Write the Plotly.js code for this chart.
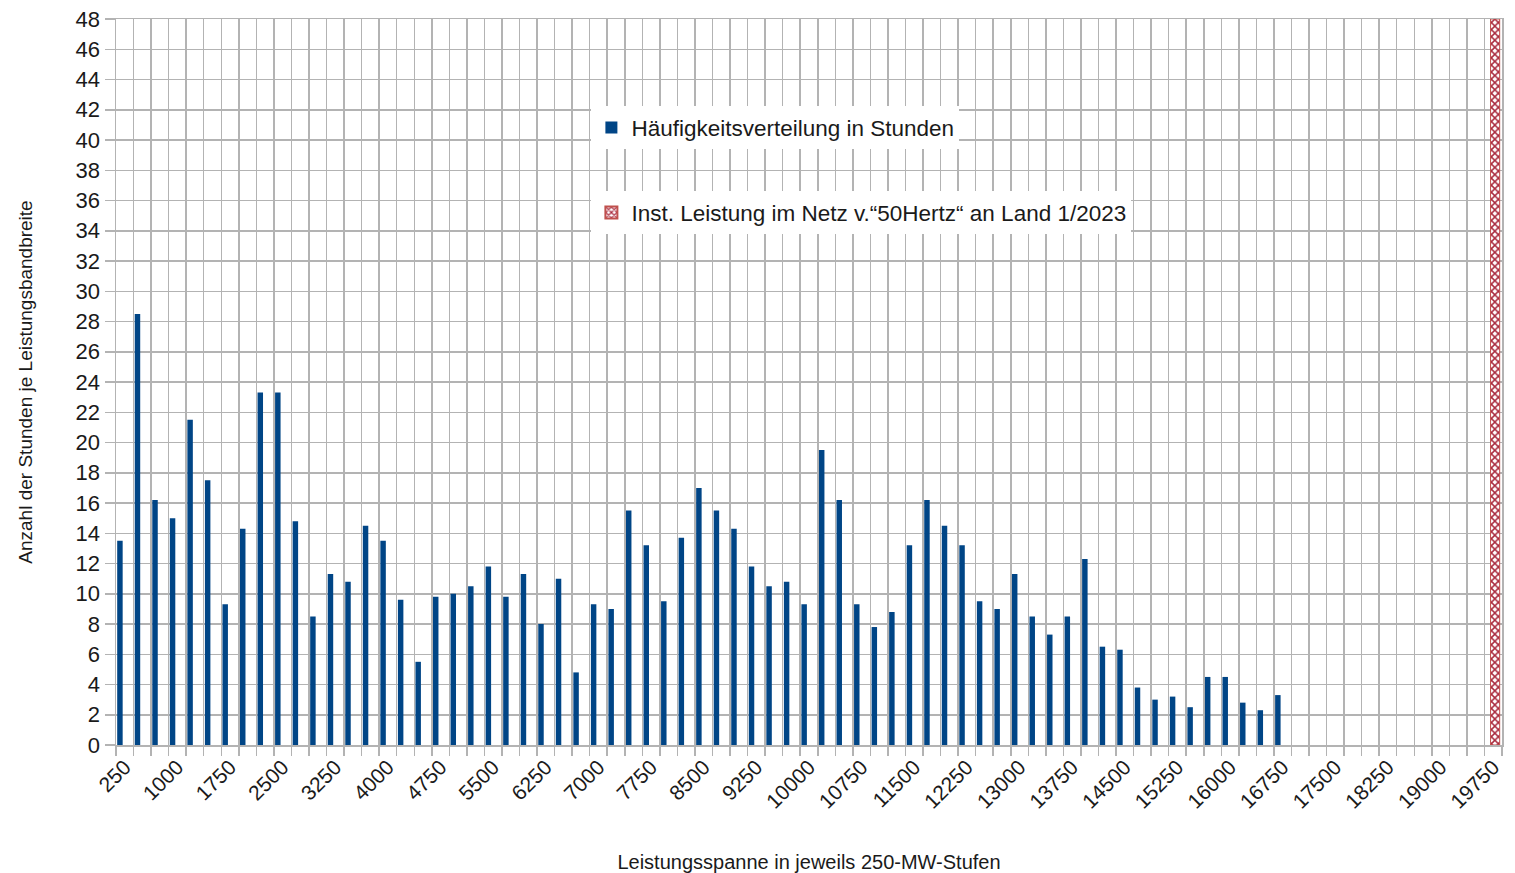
<!DOCTYPE html>
<html>
<head>
<meta charset="utf-8">
<script src="https://cdn.plot.ly/plotly-3.0.1.min.js"></script>
<style>html,body{margin:0;padding:0;background:#fff;}#chart{width:1515px;height:873px;}</style>
</head>
<body>
<div id="chart"></div>
<script>
// Leistungsspanne (MW), 250-MW-Stufen, mit Daten
const leistung = [250,500,750,1000,1250,1500,1750,2000,2250,2500,2750,3000,3250,3500,3750,4000,4250,4500,4750,5000,
  5250,5500,5750,6000,6250,6500,6750,7000,7250,7500,7750,8000,8250,8500,8750,9000,9250,9500,9750,10000,
  10250,10500,10750,11000,11250,11500,11750,12000,12250,12500,12750,13000,13250,13500,13750,14000,14250,14500,14750,15000,
  15250,15500,15750,16000,16250,16500,16750];
// Häufigkeitsverteilung in Stunden
const stunden = [13.5,28.5,16.2,15.0,21.5,17.5,9.3,14.3,23.3,23.3,14.8,8.5,11.3,10.8,14.5,13.5,9.6,5.5,9.8,10.0,
  10.5,11.8,9.8,11.3,8.0,11.0,4.8,9.3,9.0,15.5,13.2,9.5,13.7,17.0,15.5,14.3,11.8,10.5,10.8,9.3,
  19.5,16.2,9.3,7.8,8.8,13.2,16.2,14.5,13.2,9.5,9.0,11.3,8.5,7.3,8.5,12.3,6.5,6.3,3.8,3.0,
  3.2,2.5,4.5,4.5,2.8,2.3,3.3];
// Installierte Leistung
const instX = [19750];
const instY = [48];
// Beschriftete Achsenstriche
const tickWerte = [250,1000,1750,2500,3250,4000,4750,5500,6250,7000,7750,8500,9250,10000,10750,11500,12250,13000,13750,14500,15250,16000,16750,17500,18250,19000,19750];
const tickTexte = tickWerte.map(String);

const FONT = 'Liberation Sans, Arial, sans-serif';
const GRID = '#b3b3b3';

const traces = [
  {
    type: 'bar', name: 'Häufigkeitsverteilung in Stunden',
    x: leistung, y: stunden,
    width: 78, offset: -108,
    marker: {color: '#004586', line: {width: 0}},
    legend: 'legend', hoverinfo: 'x+y'
  },
  {
    type: 'bar', name: 'Inst. Leistung im Netz v.“50Hertz“ an Land 1/2023',
    x: instX, y: instY,
    width: 130, offset: -38,
    marker: {color: '#ffffff', line: {color: '#c0504d', width: 1},
             pattern: {shape: 'x', fgcolor: '#a8283c', bgcolor: '#ffffff', size: 5, solidity: 0.5}},
    legend: 'legend2', hoverinfo: 'x+y'
  }
];

const layout = {
  width: 1515, height: 873,
  margin: {l: 116, r: 13, t: 19, b: 128},
  paper_bgcolor: '#ffffff', plot_bgcolor: '#ffffff',
  font: {family: FONT, color: '#1a1a1a'},
  showlegend: true,
  xaxis: {
    type: 'linear', range: [125, 19875],
    tickmode: 'array', tickvals: tickWerte, ticktext: tickTexte,
    tickangle: -45, tickfont: {size: 21, family: FONT, color: '#1a1a1a'},
    ticks: '', showgrid: false, zeroline: false,
    showline: true, linecolor: GRID, linewidth: 1.5, mirror: true,
    minor: {tickmode: 'linear', tick0: 125, dtick: 250, showgrid: true, gridcolor: GRID, gridwidth: 1.5,
            ticks: 'outside', ticklen: 9, tickcolor: GRID, tickwidth: 1.5},
    title: {text: 'Leistungsspanne in jeweils 250-MW-Stufen', font: {size: 20, family: FONT, color: '#1a1a1a'}, standoff: 44}
  },
  yaxis: {
    range: [0, 48], dtick: 2, tick0: 0,
    tickfont: {size: 22, family: FONT, color: '#1a1a1a'},
    ticks: 'outside', ticklen: 10, tickcolor: GRID, tickwidth: 1.5,
    showgrid: true, gridcolor: GRID, gridwidth: 1.5, zeroline: false,
    showline: true, linecolor: GRID, linewidth: 1.5, mirror: true,
    title: {text: 'Anzahl der Stunden je Leistungsbandbreite', font: {size: 19, family: FONT, color: '#1a1a1a'}, standoff: 38}
  },
  legend: {
    x: 0.343, xanchor: 'left', y: 0.850, yanchor: 'middle',
    bgcolor: '#ffffff', borderwidth: 0,
    font: {size: 22.5, family: FONT, color: '#1a1a1a'},
    itemsizing: 'constant'
  },
  legend2: {
    x: 0.343, xanchor: 'left', y: 0.733, yanchor: 'middle',
    bgcolor: '#ffffff', borderwidth: 0,
    font: {size: 22.5, family: FONT, color: '#1a1a1a'},
    itemsizing: 'constant'
  }
};

Plotly.newPlot('chart', traces, layout, {staticPlot: true, displayModeBar: false});
</script>
</body>
</html>
